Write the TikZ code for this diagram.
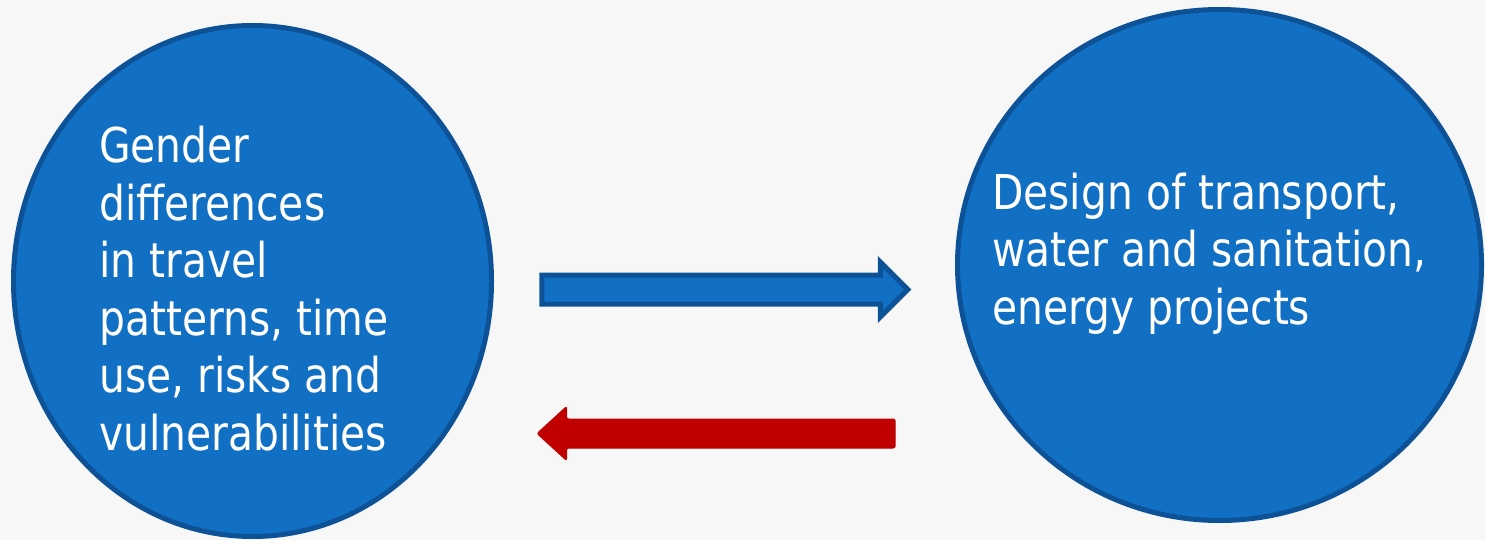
\documentclass[tikz,border=0pt]{standalone}
\usepackage{fontspec}
\newfontfamily\slidefont[FakeStretch=0.85]{DejaVu Sans}
\usepackage{tikz}
\usetikzlibrary{shapes,positioning}
\usepackage{xcolor}
\definecolor{sblue}{HTML}{1170C4}
\definecolor{sbord}{HTML}{0D5296}
\definecolor{sred}{HTML}{C00000}
\definecolor{sback}{HTML}{F7F7F7}
\tikzstyle{l1}=[line width=5]
\tikzstyle{bubble}=[ellipse, draw=sbord, fill=sblue, l1, inner sep=0pt]
\tikzstyle{btext}=[text=white, align=left, inner sep=0pt, anchor=base west,
  font=\slidefont\fontsize{48}{57.5}\selectfont]
\tikzstyle{barrow}=[single arrow, minimum height=366pt, inner xsep=0pt, inner ysep=12pt,
  single arrow head extend=13pt, draw=sbord, fill=sblue, l1]
\tikzstyle{rarrow}=[single arrow, shape border rotate=180, minimum height=358pt, inner xsep=0pt,
  inner ysep=14pt, single arrow head extend=12.5pt, single arrow tip angle=85,
  draw=sred, fill=sred, line width=1, rounded corners=2pt]

\begin{document}
\begin{tikzpicture}[x=1pt, y=-1pt]
    \fill[sback] (0,0) rectangle (1485,540);
    \useasboundingbox (0,0) rectangle (1485,540);

    \node[bubble, minimum width=478pt, minimum height=511pt] at (252.5,281) (gap) {};
    \node[bubble, minimum width=524pt, minimum height=511pt] at (1219.5,265) (design) {};

    % base anchor sits on the last line
    \node[btext] at (99,450) (gapt) {Gender\\differences\\in travel\\patterns, time\\use, risks and\\vulnerabilities};
    \node[btext] at (992,324) (designt) {Design of transport,\\water and sanitation,\\energy projects};

    \node[barrow] at (717.5,289.5) (fwd) {};
    \node[rarrow] at (724,433.5) (back) {};
\end{tikzpicture}
\end{document}
